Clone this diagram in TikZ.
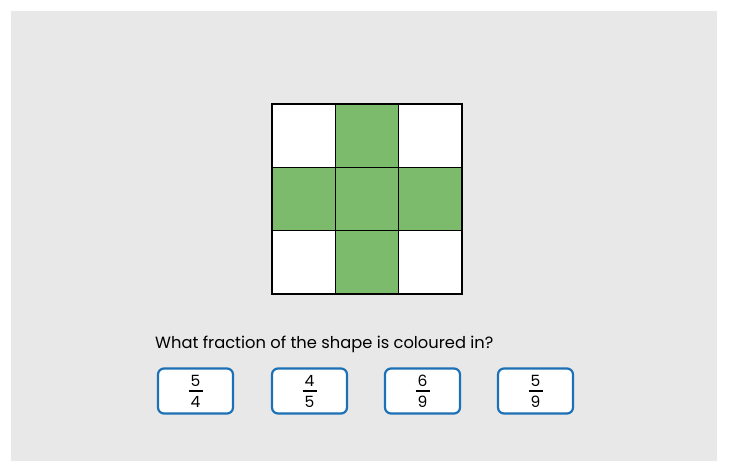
\documentclass[tikz,border=0pt]{standalone}
\usepackage{fontspec}
\setmainfont{Poppins}
\definecolor{bggrey}{RGB}{232,232,232}
\definecolor{cellgreen}{RGB}{123,187,107}
\definecolor{boxblue}{RGB}{27,112,182}
\begin{document}
\begin{tikzpicture}[x=1pt,y=-1pt,
  cellw/.style={draw=black,line width=1.3pt,fill=white},
  cellg/.style={draw=black,line width=1.3pt,fill=cellgreen},
  answer/.style={draw=boxblue,line width=2.2pt,rounded corners=6pt,fill=white,minimum width=75pt,minimum height=45pt,inner sep=0pt},
  digit/.style={font=\fontsize{15.5}{16}\selectfont,inner sep=0pt}]
\useasboundingbox (0,0) rectangle (729,461);
\fill[white] (0,0) rectangle (729,461);
\fill[bggrey] (11,11) rectangle (717,461);
% grid cells
\foreach \r in {0,1,2}{
  \foreach \c in {0,1,2}{
    \pgfmathtruncatemacro{\g}{(\r==1 || \c==1) ? 1 : 0}
    \ifnum\g=1
      \draw[cellg] ({272+63.33*\c},{104+63.33*\r}) rectangle ++(63.33,63.33);
    \else
      \draw[cellw] ({272+63.33*\c},{104+63.33*\r}) rectangle ++(63.33,63.33);
    \fi
  }
}
\node[anchor=base west,font=\fontsize{16.3}{18}\selectfont,inner sep=0pt] (q) at (155,348) {What fraction of the shape is coloured in?};
\node[answer] (a1) at (195.5,391) {};
\node[answer] (a2) at (309.5,391) {};
\node[answer] (a3) at (422.5,391) {};
\node[answer] (a4) at (535.5,391) {};
\foreach \n/\num/\den in {a1/5/4,a2/4/5,a3/6/9,a4/5/9}{
  \node[digit,anchor=base] (\n n) at ([yshift=4.5pt]\n.center) {\num};
  \node[digit,anchor=base] (\n d) at ([yshift=-16.5pt]\n.center) {\den};
  \draw[line width=1.3pt] ([xshift=-7pt]\n.center) -- ([xshift=7pt]\n.center);
}
\end{tikzpicture}
\end{document}
